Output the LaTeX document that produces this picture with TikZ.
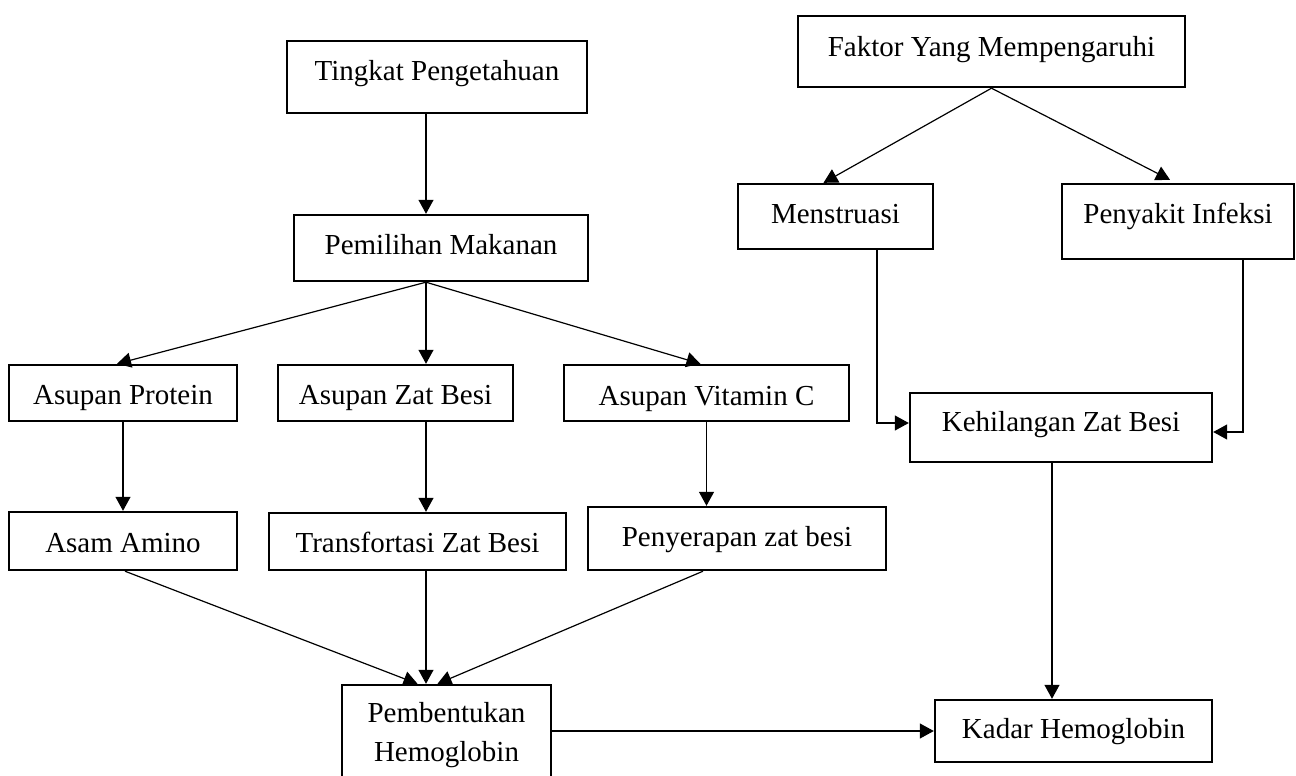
\documentclass[tikz,border=0pt]{standalone}
\usepackage{fontspec}
\setmainfont{Liberation Serif}
\usetikzlibrary{arrows.meta,calc}
\begin{document}
\begin{tikzpicture}[x=1pt,y=-1pt,
  bx/.style={draw, line width=2.4pt, inner sep=0pt, font=\fontsize{29}{38.5}\selectfont, align=center},
  box/.style={bx, text height=26pt, text depth=#1},
  arr/.style={line width=1.2pt, -{Triangle[length=14pt,width=15pt]}}]
\useasboundingbox (0,0) rectangle (1296,776);
\clip (0,0) rectangle (1296,776);
\fill[white] (0,0) rectangle (1296,776);
\node[box=19.8pt, minimum width=300pt, minimum height=72pt] (tingkat) at (437,77) {Tingkat Pengetahuan};
\node[box=13.8pt, minimum width=294pt, minimum height=66pt] (pemilihan) at (441,248) {Pemilihan Makanan};
\node[box=16.8pt, minimum width=387pt, minimum height=71pt] (faktor) at (991.5,51.5) {Faktor Yang Mempengaruhi};
\node[box=11.8pt, minimum width=195pt, minimum height=65pt] (menstruasi) at (835.5,216.5) {Menstruasi};
\node[box=22.8pt, minimum width=232pt, minimum height=75pt] (penyakit) at (1178,221.5) {Penyakit Infeksi};
\node[box=2.8pt, minimum width=228pt, minimum height=56pt] (protein) at (123,393) {Asupan Protein};
\node[box=2.8pt, minimum width=235pt, minimum height=56pt] (zatbesi) at (395.5,393) {Asupan Zat Besi};
\node[box=1.8pt, minimum width=285pt, minimum height=56pt] (vitc) at (706.5,393) {Asupan Vitamin C};
\node[box=17.8pt, minimum width=302pt, minimum height=69pt] (kehilangan) at (1061,427.5) {Kehilangan Zat Besi};
\node[box=3.8pt, minimum width=228pt, minimum height=58pt] (asam) at (123,541) {Asam Amino};
\node[box=3.8pt, minimum width=297pt, minimum height=57pt] (transf) at (417.5,541.5) {Transfortasi Zat Besi};
\node[box=10.8pt, minimum width=298pt, minimum height=63pt] (penyerapan) at (737,538.5) {Penyerapan zat besi};
\node[bx, minimum width=209pt, minimum height=100pt] (pemb) at (446.5,735) {Pembentukan\\Hemoglobin};
\node[box=10.8pt, minimum width=277pt, minimum height=62pt] (kadar) at (1073.5,731) {Kadar Hemoglobin};
\coordinate (sp) at (426,0);
\coordinate (pf) at (pemilihan.south -| sp);
\coordinate (kd) at ($(kehilangan.south)+(-9,0)$);
\draw[arr] (tingkat.south -| sp) -- (pemilihan.north -| sp);
\draw[arr] (pf) -- ($(protein.north)+(-6,0)$);
\draw[arr] (pf) -- (zatbesi.north -| sp);
\draw[arr] (pf) -- ($(vitc.north)+(-6,0)$);
\draw[arr] (faktor.south) -- ($(menstruasi.north)+(-12,0)$);
\draw[arr] (faktor.south) -- ($(penyakit.north)+(-8,-3)$);
\draw[arr] (protein.south) -- (asam.north);
\draw[arr] (zatbesi.south -| sp) -- (transf.north -| sp);
\draw[arr] (vitc.south) -- (vitc.south |- penyerapan.north);
\draw[arr] ($(asam.south)+(2,0)$) -- ($(pemb.north)+(-29,0)$);
\draw[arr] (transf.south -| sp) -- (pemb.north -| sp);
\draw[arr] ($(penyerapan.south)+(-34,0)$) -- ($(pemb.north)+(-9,0)$);
\draw[arr] ($(menstruasi.south)+(41.5,0)$) |- ($(kehilangan.west)+(0,-4.5)$);
\draw[arr] ($(penyakit.south)+(65,0)$) |- ($(kehilangan.east)+(0,4.5)$);
\draw[arr] (kd) -- (kd |- kadar.north);
\draw[arr] (kadar.west -| pemb.east) -- (kadar.west);
\end{tikzpicture}
\end{document}
